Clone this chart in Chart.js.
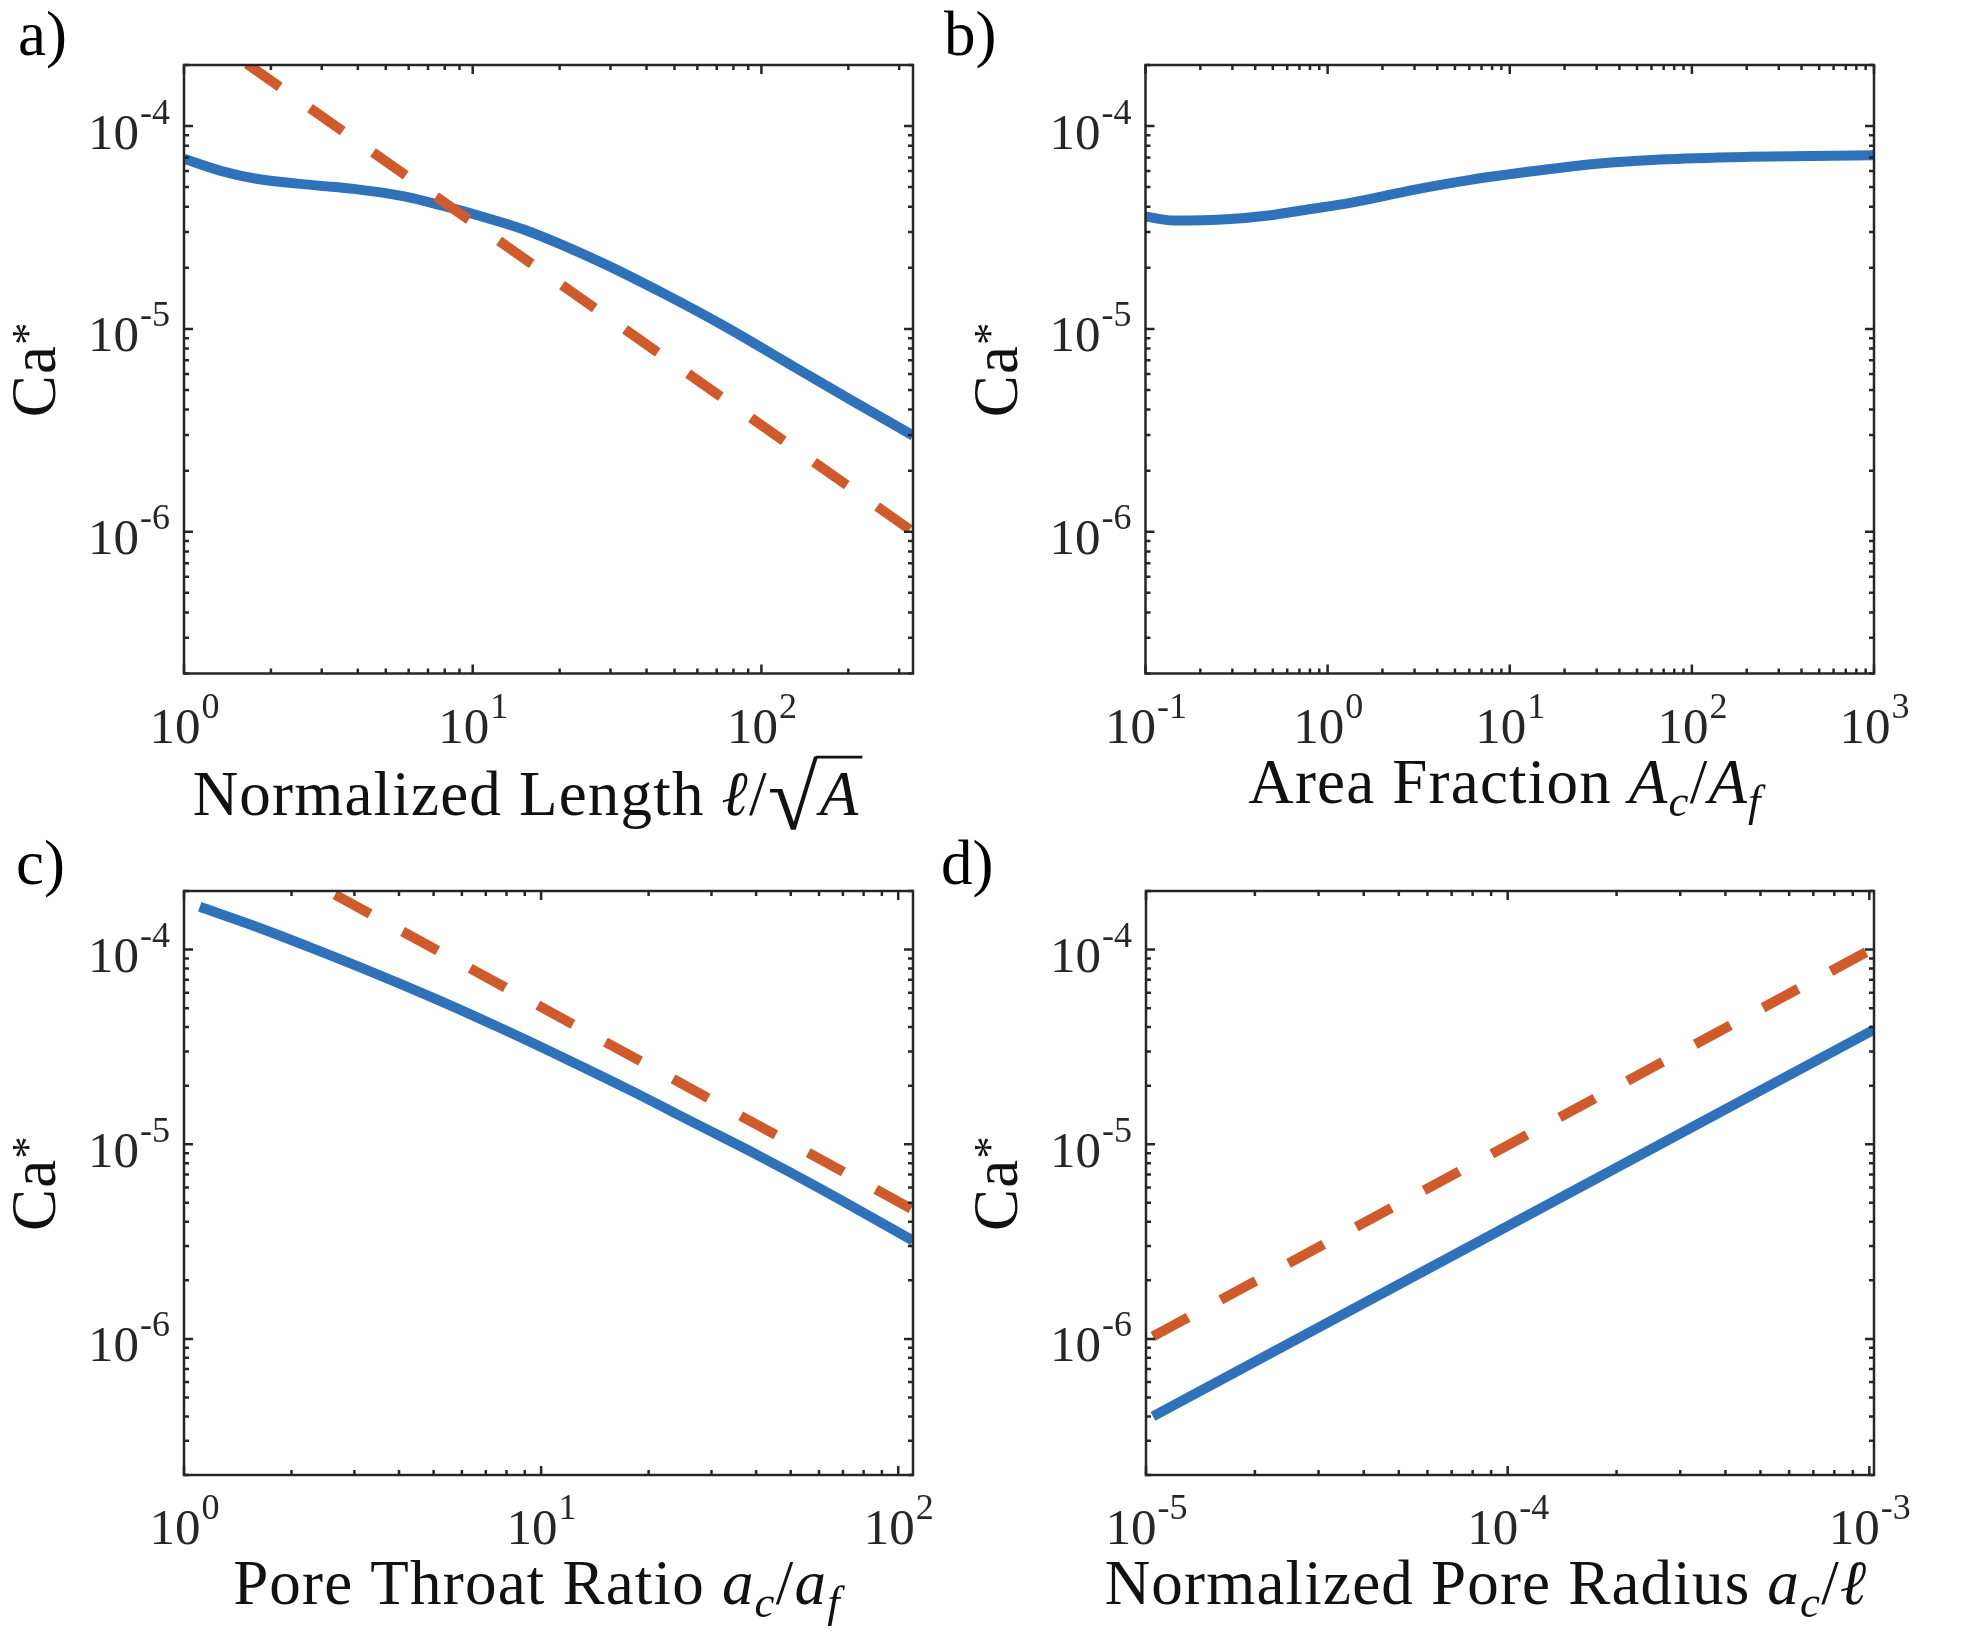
<!DOCTYPE html>
<html>
<head>
<meta charset="utf-8">
<title>Critical capillary number Ca*</title>
<script src="https://cdn.jsdelivr.net/npm/chart.js@4.4.1/dist/chart.umd.min.js"></script>
<style>
    html, body { margin: 0; padding: 0; background: #fff; }
    #figure { position: relative; width: 1980px; height: 1640px; overflow: hidden; background: #fff; }
    #figure canvas { position: absolute; left: 0; top: 0; }
</style>
</head>
<body>
<div id="figure">
    <canvas id="panelA" width="1980" height="1640"></canvas>
    <canvas id="panelB" width="1980" height="1640"></canvas>
    <canvas id="panelC" width="1980" height="1640"></canvas>
    <canvas id="panelD" width="1980" height="1640"></canvas>
</div>
<script>
// shared Ca* axis
const caRange = [2e-7, 2e-4];
const caDecades = [-6, -5, -4];

// a) normalized length
const lengthRange = [1, 335];
const lengthDecades = [0, 1, 2];
const lengthX = [1, 1.35, 1.78, 2.86, 3.87, 5.8, 7.8, 10.6, 15.1, 27.6, 45.6, 75.5, 125, 206, 335];
const lengthCa = [6.9e-5, 6.0e-5, 5.5e-5, 5.1e-5, 4.9e-5, 4.5e-5, 4.06e-5, 3.6e-5, 3.08e-5, 2.14e-5, 1.5e-5, 1.02e-5, 6.7e-6, 4.43e-6, 2.98e-6];
const lengthScalingX = [1, 335];
const lengthScalingCa = [3.35e-4, 1.0e-6];

// b) area fraction
const areaRange = [0.1, 1000];
const areaDecades = [-1, 0, 1, 2, 3];
const areaX = [0.1, 0.142, 0.292, 0.472, 0.762, 1.33, 2.97, 6.09, 13.6, 30.1, 67, 205, 1000];
const areaCa = [3.58e-5, 3.42e-5, 3.48e-5, 3.62e-5, 3.87e-5, 4.18e-5, 4.85e-5, 5.43e-5, 6.0e-5, 6.52e-5, 6.84e-5, 7.05e-5, 7.18e-5];

// c) pore throat ratio
const throatRange = [1, 110];
const throatDecades = [0, 1, 2];
const throatX = [1.107, 1.56, 2.34, 3.52, 5.29, 7.94, 11.9, 17.9, 27, 40.5, 60.8, 110];
const throatCa = [1.66e-4, 1.33e-4, 1.0e-4, 7.4e-5, 5.39e-5, 3.85e-5, 2.71e-5, 1.88e-5, 1.28e-5, 8.77e-6, 5.89e-6, 3.2e-6];
const throatScalingX = [1.107, 110];
const throatScalingCa = [4.58e-4, 4.61e-6];

// d) normalized pore radius
const radiusRange = [1e-5, 1.03e-3];
const radiusDecades = [-5, -4, -3];
const radiusX = [1.045e-5, 1.03e-3];
const radiusCa = [4.0e-7, 3.88e-5];
const radiusScalingX = [1.045e-5, 1.0e-3];
const radiusScalingCa = [1.03e-6, 9.9e-5];

const FONT = '"Liberation Serif", "Times New Roman", serif';
const INK = '#262626';
const BLUE = '#3072b9';
const ORANGE = '#cf5a2b';
const LABEL_SIZE = 63;

const panels = [
    {
        canvas: 'panelA', tag: 'a)', tagAt: [18, 55],
        area: { left: 184, top: 65, right: 913, bottom: 673.5 },
        xRange: lengthRange, xDecades: lengthDecades,
        title: [{ text: 'Normalized Length ' }, { text: 'ℓ', italic: true }, { text: '/' }, { text: 'A', italic: true, root: true }],
        titleAt: [528, 815],
        curves: [[lengthX, lengthCa], [lengthScalingX, lengthScalingCa]]
    },
    {
        canvas: 'panelB', tag: 'b)', tagAt: [944, 55],
        area: { left: 1145.5, top: 65, right: 1874, bottom: 673.5 },
        xRange: areaRange, xDecades: areaDecades,
        title: [{ text: 'Area Fraction ' }, { text: 'A', italic: true }, { text: 'c', italic: true, sub: true }, { text: '/' }, { text: 'A', italic: true }, { text: 'f', italic: true, sub: true }],
        titleAt: [1505, 803],
        curves: [[areaX, areaCa]]
    },
    {
        canvas: 'panelC', tag: 'c)', tagAt: [16, 884],
        area: { left: 184, top: 891, right: 913, bottom: 1475 },
        xRange: throatRange, xDecades: throatDecades,
        title: [{ text: 'Pore Throat Ratio ' }, { text: 'a', italic: true }, { text: 'c', italic: true, sub: true }, { text: '/' }, { text: 'a', italic: true }, { text: 'f', italic: true, sub: true }],
        titleAt: [537, 1604],
        curves: [[throatX, throatCa], [throatScalingX, throatScalingCa]]
    },
    {
        canvas: 'panelD', tag: 'd)', tagAt: [941, 884],
        area: { left: 1146, top: 891, right: 1874, bottom: 1475 },
        xRange: radiusRange, xDecades: radiusDecades,
        title: [{ text: 'Normalized Pore Radius ' }, { text: 'a', italic: true }, { text: 'c', italic: true, sub: true }, { text: '/' }, { text: 'ℓ', italic: true }],
        titleAt: [1486, 1604],
        curves: [[radiusX, radiusCa], [radiusScalingX, radiusScalingCa]]
    }
];

const caLabel = [{ text: 'Ca' }, { text: '*', star: true }];

// lays out a run of text pieces (sub/superscripts, italic math, square root)
function layoutRuns(ctx, runs, size) {
    const pieces = [];
    let x = 0;
    runs.forEach(r => {
        const s = (r.sub || r.star) ? Math.round(size * 0.72) : size;
        const font = (r.italic ? 'italic ' : '') + s + 'px ' + FONT;
        if (r.root) {
            ctx.font = '100px ' + FONT;
            const m100 = ctx.measureText('√');
            const rs = Math.round(100 * size * 1.18 / (m100.actualBoundingBoxAscent + m100.actualBoundingBoxDescent) * 10) / 10;
            const rootFont = rs + 'px ' + FONT;
            ctx.font = rootFont;
            const m = ctx.measureText('√');
            const top = -size * 0.94;
            pieces.push({ text: '√', font: rootFont, x: x, dy: top + m.actualBoundingBoxAscent });
            x += m.actualBoundingBoxRight;
            ctx.font = font;
            const w = ctx.measureText(r.text).width;
            pieces.push({ bar: true, x0: x - 3, x1: x + w + 4, y: top + 1.3 });
            pieces.push({ text: r.text, font: font, x: x + 1, dy: 0 });
            x += w + 5;
            return;
        }
        ctx.font = font;
        let dy = 0;
        if (r.sub) dy = size * 0.2;
        if (r.star) dy = -size * 0.2;
        pieces.push({ text: r.text, font: font, x: x, dy: dy });
        x += ctx.measureText(r.text).width;
    });
    return { pieces: pieces, width: x };
}

function drawRuns(ctx, runs, size, cx, baseline) {
    ctx.letterSpacing = '1.2px';
    const lay = layoutRuns(ctx, runs, size);
    const x0 = cx - lay.width / 2;
    ctx.textAlign = 'left';
    ctx.textBaseline = 'alphabetic';
    lay.pieces.forEach(p => {
        if (p.bar) {
            ctx.beginPath();
            ctx.lineWidth = 2.6;
            ctx.moveTo(x0 + p.x0, baseline + p.y);
            ctx.lineTo(x0 + p.x1, baseline + p.y);
            ctx.stroke();
            return;
        }
        ctx.font = p.font;
        ctx.fillText(p.text, x0 + p.x, baseline + p.dy);
    });
    ctx.letterSpacing = '0px';
}

// "10" with a raised exponent, like MATLAB log tick labels
function drawPower(ctx, exponent, x, baseline, align) {
    const expText = exponent < 0 ? '-' + (-exponent) : String(exponent);
    ctx.font = '51px ' + FONT;
    const wBase = ctx.measureText('10').width;
    ctx.font = '36px ' + FONT;
    const wExp = ctx.measureText(expText).width;
    const start = align === 'center' ? x - (wBase + wExp) / 2 : x - (wBase + wExp);
    ctx.textAlign = 'left';
    ctx.textBaseline = 'alphabetic';
    ctx.font = '51px ' + FONT;
    ctx.fillText('10', start, baseline);
    ctx.font = '36px ' + FONT;
    ctx.fillText(expText, start + wBase + 1, baseline - 25);
}

function logTickValues(range) {
    const values = [];
    const lo = Math.floor(Math.log10(range[0]));
    const hi = Math.ceil(Math.log10(range[1]));
    for (let e = lo; e <= hi; e++) {
        for (let m = 1; m <= 9; m++) {
            const v = m * Math.pow(10, e);
            if (v >= range[0] * 0.9999 && v <= range[1] * 1.0001) {
                values.push({ value: v, major: m === 1 });
            }
        }
    }
    return values;
}

function axesPlugin(panel) {
    return {
        id: 'matlabAxes',
        afterDatasetsDraw(chart) {
            const ctx = chart.ctx;
            const { left, top, right, bottom } = chart.chartArea;
            const xs = chart.scales.x;
            const ys = chart.scales.y;

            ctx.save();
            ctx.strokeStyle = INK;
            ctx.fillStyle = INK;
            ctx.lineWidth = 2.5;
            ctx.lineCap = 'butt';

            // tick marks on all four sides, pointing inward
            ctx.beginPath();
            logTickValues(panel.xRange).forEach(t => {
                const px = xs.getPixelForValue(t.value);
                const len = t.major ? 9 : 5;
                ctx.moveTo(px, bottom);
                ctx.lineTo(px, bottom - len);
                ctx.moveTo(px, top);
                ctx.lineTo(px, top + len);
            });
            logTickValues(caRange).forEach(t => {
                const py = ys.getPixelForValue(t.value);
                const len = t.major ? 9 : 5;
                ctx.moveTo(left, py);
                ctx.lineTo(left + len, py);
                ctx.moveTo(right, py);
                ctx.lineTo(right - len, py);
            });
            ctx.stroke();
            ctx.strokeRect(left, top, right - left, bottom - top);

            // tick labels
            panel.xDecades.forEach(e => {
                drawPower(ctx, e, xs.getPixelForValue(Math.pow(10, e)), bottom + 69, 'center');
            });
            caDecades.forEach(e => {
                drawPower(ctx, e, left - 15, ys.getPixelForValue(Math.pow(10, e)) + 22.5, 'right');
            });

            // axis titles
            ctx.fillStyle = '#111';
            ctx.strokeStyle = '#111';
            drawRuns(ctx, panel.title, LABEL_SIZE, panel.titleAt[0], panel.titleAt[1]);

            ctx.save();
            ctx.translate(left - 129, (top + bottom) / 2);
            ctx.rotate(-Math.PI / 2);
            drawRuns(ctx, caLabel, LABEL_SIZE, 0, 0);
            ctx.restore();

            // panel tag
            ctx.font = LABEL_SIZE + 'px ' + FONT;
            ctx.fillStyle = '#000';
            ctx.textAlign = 'left';
            ctx.fillText(panel.tag, panel.tagAt[0], panel.tagAt[1]);
            ctx.restore();
        }
    };
}

function buildChart(panel) {
    const a = panel.area;
    const datasets = panel.curves.map((c, i) => ({
        data: c[0].map((x, k) => ({ x: x, y: c[1][k] })),
        borderColor: i === 0 ? BLUE : ORANGE,
        borderWidth: 10,
        borderDash: i === 0 ? [] : [40, 37],
        borderCapStyle: 'butt',
        borderJoinStyle: 'round',
        cubicInterpolationMode: 'monotone',
        pointRadius: 0,
        fill: false,
        clip: 0,
        order: i === 0 ? 1 : 0
    }));

    return new Chart(document.getElementById(panel.canvas), {
        type: 'line',
        data: { datasets: datasets },
        options: {
            responsive: false,
            animation: false,
            events: [],
            layout: {
                padding: { left: a.left, top: a.top, right: 1980 - a.right, bottom: 1640 - a.bottom }
            },
            scales: {
                x: { type: 'logarithmic', min: panel.xRange[0], max: panel.xRange[1], display: false },
                y: { type: 'logarithmic', min: caRange[0], max: caRange[1], display: false }
            },
            plugins: {
                legend: { display: false },
                tooltip: { enabled: false }
            }
        },
        plugins: [axesPlugin(panel)]
    });
}

panels.forEach(buildChart);
</script>
</body>
</html>
